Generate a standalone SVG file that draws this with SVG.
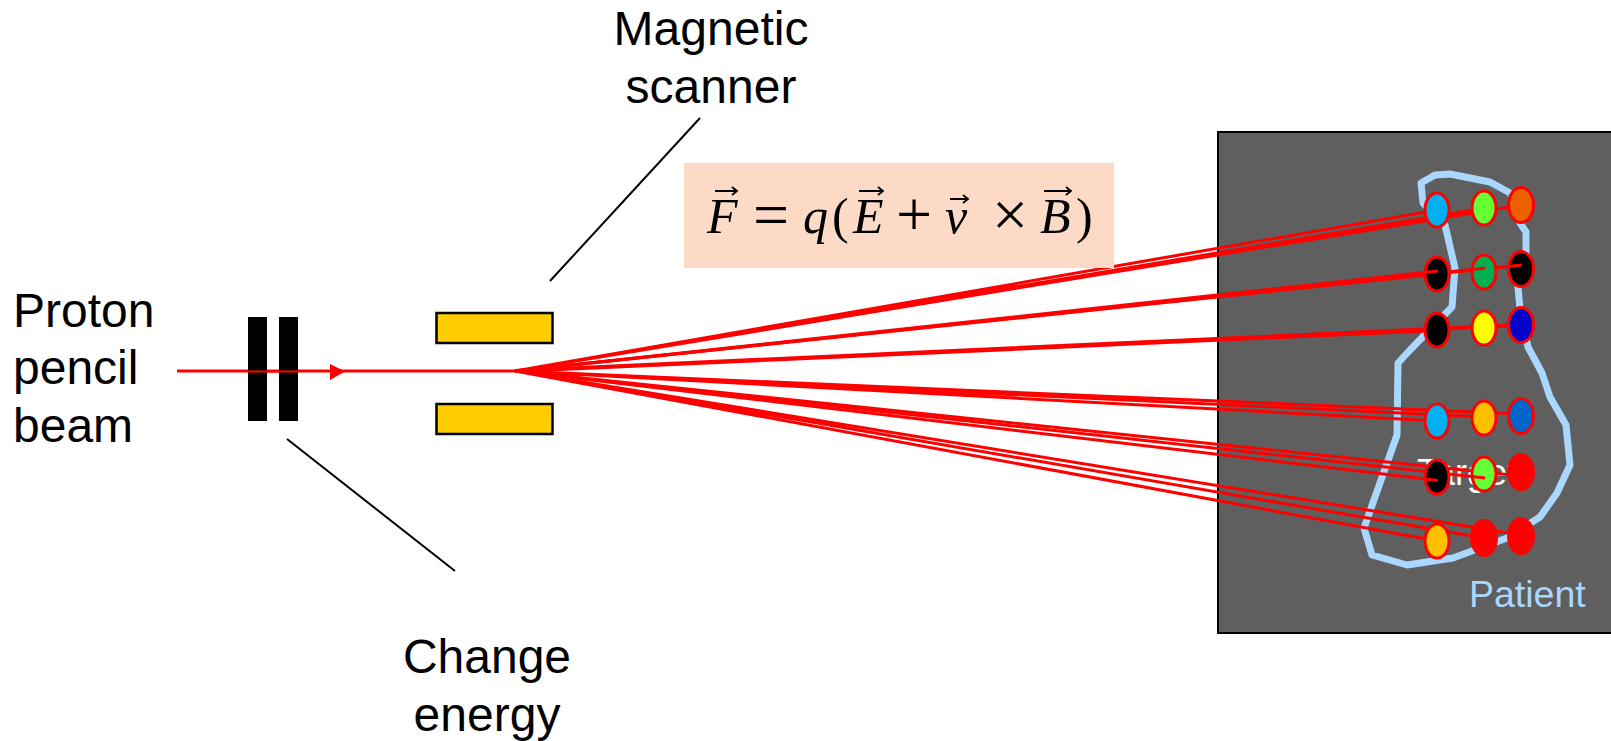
<svg xmlns="http://www.w3.org/2000/svg" width="1611" height="741" viewBox="0 0 1611 741">
<style>
.lbl{font-family:"Liberation Sans",Arial,sans-serif;font-size:48px;fill:#000;text-anchor:middle}
.lft{text-anchor:start}
.beam{stroke:#f00;stroke-width:3;fill:none}
.fat{stroke-width:4}
.dot{stroke:#f00;stroke-width:3}
.lead{stroke:#000;stroke-width:2;fill:none}
.eq{font-family:"Liberation Serif",serif;font-size:50px;fill:#000}
.eqi{font-style:italic}
.op{font-size:64px}
.acc{stroke:#000;stroke-width:1.8;fill:none}
</style>
<rect width="1611" height="741" fill="#fff"/>
<g id="patient">
<rect x="1218" y="132" width="394" height="501" fill="#5f5f5f" stroke="#000" stroke-width="2"/>
<path d="M1423,203L1421,183L1435,175L1450,174L1490,182L1510,193L1520,223L1526,232L1526,253L1518,287L1520,310L1528,347L1542,373L1550,397L1566,425L1570,465L1557,493L1540,517L1507,538L1453,558L1407,565L1372,555L1364,528L1397,435L1398,363L1410,350L1452,307L1455,268L1445,225Z" fill="none" stroke="#a9d7ff" stroke-width="7" stroke-linejoin="round"/>
<text x="1469" y="607" font-family="Liberation Sans, Arial, sans-serif" font-size="37.500" fill="#a9d7ff">Patient</text>
</g>
<g id="target"><text x="1417" y="485" font-family="Liberation Sans, Arial, sans-serif" font-size="36" fill="#fff">Target</text></g>
<g id="connectors">
<path class="lead" d="M700,118L550,281M287,439L455,571"/>
<path d="M177,371H515" stroke="#f00" stroke-width="3" fill="none"/>
<path d="M330,364L345,371.500L330,380Z" fill="#f00"/>
<path class="beam" d="M515,371L1521,205M515,371L1484,208M515,371L1437,210M515,371L1521,414M515,371L1484,417M515,371L1437,421M515,371L1521,476M515,371L1521,535M515,371L1484,538M515,371L1437,541"/>
<path class="beam fat" d="M515,371L1521,325M515,371L1437,330"/>
</g>
<g id="degrader"><rect x="248" y="317" width="19" height="104" fill="#000"/><rect x="279" y="317" width="19" height="104" fill="#000"/></g>
<path d="M248,371.500H298" stroke="#f00" stroke-width="2" fill="none"/>
<g id="scanner"><rect x="436.500" y="313" width="116" height="30" fill="#fc0" stroke="#000" stroke-width="2.500"/><rect x="436.500" y="404" width="116" height="30" fill="#fc0" stroke="#000" stroke-width="2.500"/></g>
<g id="spots-row1"><ellipse class="dot" cx="1521" cy="205" rx="12.500" ry="17.500" fill="#ed6000"/><ellipse class="dot" cx="1484" cy="208" rx="12" ry="17" fill="#66ff33"/><ellipse class="dot" cx="1437" cy="210" rx="12" ry="17" fill="#00b0f0"/></g>
<g id="spots-row3"><ellipse class="dot" cx="1521" cy="325" rx="12.500" ry="17.500" fill="#0000c8"/><ellipse class="dot" cx="1484" cy="328" rx="12" ry="17" fill="#ffff00"/><ellipse class="dot" cx="1437" cy="330" rx="12" ry="17" fill="#000"/></g>
<g id="spots-row4"><ellipse class="dot" cx="1521" cy="416" rx="12.500" ry="17.500" fill="#0066cc"/><ellipse class="dot" cx="1484" cy="418" rx="12" ry="17" fill="#ffc000"/><ellipse class="dot" cx="1437" cy="421" rx="12" ry="17" fill="#00b0f0"/></g>
<g id="spots-row6"><ellipse class="dot" cx="1521" cy="536" rx="12.500" ry="17.500" fill="#f00"/><ellipse class="dot" cx="1484" cy="538" rx="12.500" ry="17.500" fill="#f00"/><ellipse class="dot" cx="1437" cy="541" rx="12" ry="17" fill="#ffc000"/></g>
<g id="spots-row2">
<ellipse class="dot" cx="1521" cy="269" rx="12.500" ry="17.500" fill="#000"/><path class="beam" d="M515,371L1522,265"/>
<ellipse class="dot" cx="1484" cy="272" rx="12" ry="17" fill="#00b050"/><path class="beam" d="M515,371L1485,268"/>
<ellipse class="dot" cx="1437" cy="274" rx="12" ry="17" fill="#000"/><path class="beam" d="M515,371L1438,271"/>
</g>
<g id="spots-row5">
<ellipse class="dot" cx="1521" cy="472" rx="12.500" ry="17.500" fill="#f00"/>
<ellipse class="dot" cx="1484" cy="474" rx="12" ry="17" fill="#66ff33"/><path class="beam" d="M515,371L1485,478"/>
<ellipse class="dot" cx="1437" cy="477" rx="12" ry="17" fill="#000"/><path class="beam" d="M515,371L1438,480.500"/>
</g>
<g id="equation">
<rect x="684" y="163" width="430" height="105" fill="#fddac6"/>
<text class="eq" y="233"><tspan class="eqi" x="707">F</tspan><tspan class="op" x="753" y="236">=</tspan><tspan class="eqi" x="803" y="233">q</tspan><tspan x="832">(</tspan><tspan class="eqi" x="853">E</tspan><tspan class="op" x="896" y="236">+</tspan><tspan class="eqi" x="945" y="233">v</tspan><tspan class="op" x="992" y="236">×</tspan><tspan class="eqi" x="1040" y="233">B</tspan><tspan x="1076">)</tspan></text>
<path class="acc" d="M715,191H737M732,187L737,191L732,195M859,191H883M878,187L883,191L878,195M950,199H968M963,195L968,199L963,203M1044,191H1071M1066,187L1071,191L1066,195"/>
</g>
<g id="labels">
<text class="lbl" x="711" y="45">Magnetic</text>
<text class="lbl" x="711" y="103">scanner</text>
<text class="lbl lft" x="13" y="327">Proton</text>
<text class="lbl lft" x="13" y="384">pencil</text>
<text class="lbl lft" x="13" y="442">beam</text>
<text class="lbl" x="487" y="673">Change</text>
<text class="lbl" x="487" y="731">energy</text>
</g>
</svg>
